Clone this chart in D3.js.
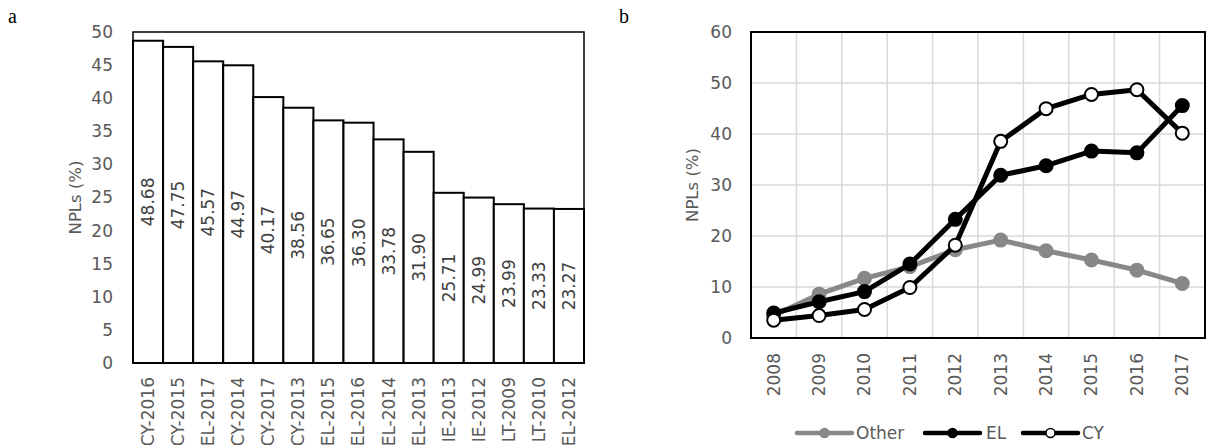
<!DOCTYPE html>
<html>
<head>
<meta charset="utf-8">
<script src="https://cdn.jsdelivr.net/npm/d3@7"></script>
<style>
  html, body { margin: 0; padding: 0; background: #fff; }
  svg { display: block; }
  text { font-family: 'DejaVu Sans', sans-serif; }
</style>
</head>
<body>
<svg id="chart" width="1206" height="445"></svg>
<script>
// ---- Data: panel a ----
const barCategories = ["CY-2016","CY-2015","EL-2017","CY-2014","CY-2017","CY-2013","EL-2015","EL-2016","EL-2014","EL-2013","IE-2013","IE-2012","LT-2009","LT-2010","EL-2012"];
const barValues = [48.68, 47.75, 45.57, 44.97, 40.17, 38.56, 36.65, 36.30, 33.78, 31.90, 25.71, 24.99, 23.99, 23.33, 23.27];
const barYTicks = [0, 5, 10, 15, 20, 25, 30, 35, 40, 45, 50];

// ---- Data: panel b ----
const years = ["2008","2009","2010","2011","2012","2013","2014","2015","2016","2017"];
const otherValues = [4.4, 8.6, 11.7, 14.0, 17.3, 19.2, 17.1, 15.3, 13.3, 10.7];
const elValues = [4.9, 7.1, 9.1, 14.5, 23.27, 31.90, 33.78, 36.65, 36.30, 45.57];
const cyValues = [3.5, 4.4, 5.6, 9.9, 18.2, 38.56, 44.97, 47.75, 48.68, 40.17];
const lineYTicks = [0, 10, 20, 30, 40, 50, 60];
const seriesNames = ["Other", "EL", "CY"];

const svg = d3.select("#chart");
const tickColor = "#595959";

// ================= Panel a =================
const A = { left: 133, right: 584, top: 32, bottom: 363 };
const xa = d3.scaleBand().domain(barCategories).range([A.left, A.right]).padding(0);
const ya = d3.scaleLinear().domain([0, 50]).range([A.bottom, A.top]);

svg.append("text").attr("x", 8).attr("y", 23)
  .style("font-family", "'Liberation Serif', 'Times New Roman', serif")
  .style("font-size", "20px").attr("fill", "#000").text("a");

// plot area border
svg.append("rect").attr("x", A.left).attr("y", A.top)
  .attr("width", A.right - A.left).attr("height", A.bottom - A.top)
  .attr("fill", "none").attr("stroke", "#000").attr("stroke-width", 1.5);

const barData = barCategories.map((c, i) => ({ c, v: barValues[i] }));
svg.append("g").selectAll("rect").data(barData).join("rect")
  .attr("x", d => xa(d.c)).attr("y", d => ya(d.v))
  .attr("width", xa.bandwidth()).attr("height", d => ya(0) - ya(d.v))
  .attr("fill", "#fff").attr("stroke", "#000").attr("stroke-width", 2);

svg.append("g").selectAll("text").data(barData).join("text")
  .attr("transform", d => `translate(${xa(d.c) + xa.bandwidth() / 2},${(ya(d.v) + ya(0)) / 2}) rotate(-90)`)
  .attr("text-anchor", "middle").attr("dominant-baseline", "central")
  .style("font-size", "17px").attr("fill", "#404040")
  .text(d => d.v.toFixed(2));

const yAxisA = svg.append("g").attr("transform", `translate(${A.left},0)`)
  .call(d3.axisLeft(ya).tickValues(barYTicks).tickSize(0).tickPadding(20));
yAxisA.select(".domain").remove();
yAxisA.selectAll("text").style("font-size", "17px").style("font-family", "'DejaVu Sans', sans-serif").attr("fill", tickColor);

const xAxisA = svg.append("g").attr("transform", `translate(0,${A.bottom})`)
  .call(d3.axisBottom(xa).tickSize(0).tickPadding(0));
xAxisA.select(".domain").remove();
xAxisA.selectAll("text")
  .attr("transform", "rotate(-90)").attr("x", -14).attr("y", 0).attr("dy", "0.35em")
  .attr("text-anchor", "end")
  .style("font-size", "17px").style("font-family", "'DejaVu Sans', sans-serif").attr("fill", tickColor);

svg.append("text")
  .attr("transform", `translate(75,${(A.top + A.bottom) / 2}) rotate(-90)`)
  .attr("text-anchor", "middle").attr("dominant-baseline", "central")
  .style("font-size", "16.5px").attr("fill", tickColor).text("NPLs (%)");

// ================= Panel b =================
const B = { left: 751, right: 1205, top: 32, bottom: 338 };
const xb = d3.scaleBand().domain(years).range([B.left, B.right]).padding(0);
const yb = d3.scaleLinear().domain([0, 60]).range([B.bottom, B.top]);
const cx = d => xb(d) + xb.bandwidth() / 2;

svg.append("text").attr("x", 619).attr("y", 23)
  .style("font-family", "'Liberation Serif', 'Times New Roman', serif")
  .style("font-size", "20px").attr("fill", "#000").text("b");

// gridlines
const grid = svg.append("g").attr("stroke", "#d9d9d9").attr("stroke-width", 1.5);
grid.selectAll("line.h").data(lineYTicks.slice(1, -1)).join("line").attr("class", "h")
  .attr("x1", B.left).attr("x2", B.right).attr("y1", d => yb(d)).attr("y2", d => yb(d));
grid.selectAll("line.v").data(years.slice(1)).join("line").attr("class", "v")
  .attr("x1", d => xb(d)).attr("x2", d => xb(d)).attr("y1", B.top).attr("y2", B.bottom);

svg.append("rect").attr("x", B.left).attr("y", B.top)
  .attr("width", B.right - B.left).attr("height", B.bottom - B.top)
  .attr("fill", "none").attr("stroke", "#000").attr("stroke-width", 2);

const yAxisB = svg.append("g").attr("transform", `translate(${B.left},0)`)
  .call(d3.axisLeft(yb).tickValues(lineYTicks).tickSize(0).tickPadding(19));
yAxisB.select(".domain").remove();
yAxisB.selectAll("text").style("font-size", "17px").style("font-family", "'DejaVu Sans', sans-serif").attr("fill", tickColor);

const xAxisB = svg.append("g").attr("transform", `translate(0,${B.bottom})`)
  .call(d3.axisBottom(xb).tickSize(0).tickPadding(0));
xAxisB.select(".domain").remove();
xAxisB.selectAll("text")
  .attr("transform", "rotate(-90)").attr("x", -15).attr("y", 0).attr("dy", "0.35em")
  .attr("text-anchor", "end")
  .style("font-size", "17px").style("font-family", "'DejaVu Sans', sans-serif").attr("fill", tickColor);

svg.append("text")
  .attr("transform", `translate(692,${(B.top + B.bottom) / 2}) rotate(-90)`)
  .attr("text-anchor", "middle").attr("dominant-baseline", "central")
  .style("font-size", "16.5px").attr("fill", tickColor).text("NPLs (%)");

const series = [
  { name: seriesNames[0], values: otherValues, stroke: "#888888", fill: "#888888", mstroke: "#888888" },
  { name: seriesNames[1], values: elValues, stroke: "#000000", fill: "#000000", mstroke: "#000000" },
  { name: seriesNames[2], values: cyValues, stroke: "#000000", fill: "#ffffff", mstroke: "#000000" }
];
const line = d3.line().x(d => cx(d.year)).y(d => yb(d.v));

series.forEach(s => {
  const pts = years.map((y, i) => ({ year: y, v: s.values[i] }));
  const g = svg.append("g");
  g.append("path").datum(pts).attr("d", line)
    .attr("fill", "none").attr("stroke", s.stroke).attr("stroke-width", 5)
    .attr("stroke-linejoin", "round").attr("stroke-linecap", "round");
  g.selectAll("circle").data(pts).join("circle")
    .attr("cx", d => cx(d.year)).attr("cy", d => yb(d.v)).attr("r", 6.5)
    .attr("fill", s.fill).attr("stroke", s.mstroke).attr("stroke-width", 2);
});

// legend
const legendItems = [
  { s: series[0], x0: 797, tx: 856 },
  { s: series[1], x0: 925, tx: 986 },
  { s: series[2], x0: 1023, tx: 1082 }
];
const ly = 433;
const lg = svg.append("g");
legendItems.forEach(it => {
  lg.append("line").attr("x1", it.x0).attr("x2", it.x0 + 55).attr("y1", ly).attr("y2", ly)
    .attr("stroke", it.s.stroke).attr("stroke-width", 4.5).attr("stroke-linecap", "round");
  lg.append("circle").attr("cx", it.x0 + 27.5).attr("cy", ly).attr("r", 4.5)
    .attr("fill", it.s.fill).attr("stroke", it.s.mstroke).attr("stroke-width", 1.5);
  lg.append("text").attr("x", it.tx).attr("y", ly).attr("dominant-baseline", "central")
    .style("font-size", "17px").attr("fill", tickColor).text(it.s.name);
});
</script>
</body>
</html>
